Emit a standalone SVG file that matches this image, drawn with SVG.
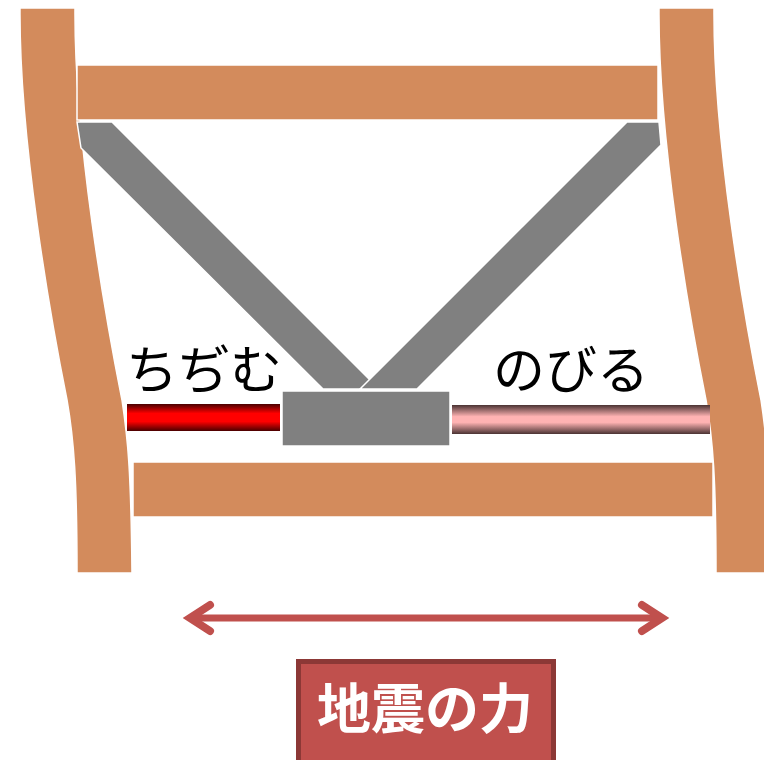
<svg xmlns="http://www.w3.org/2000/svg" width="764" height="760" viewBox="0 0 764 760">
  <style>
    .wood { fill: #d38b5c; stroke: #ffffff; stroke-width: 1.5; }
    .steel { fill: #808080; stroke: #ffffff; stroke-width: 1.5; }
    .label { font-family: "Noto Sans CJK JP", "Noto Sans", sans-serif; font-size: 52px; fill: #000000; }
    .force { stroke: #c0504d; stroke-width: 7; fill: none; }
  </style>
  <defs>
    <linearGradient id="shrinkGrad" x1="0" y1="0" x2="0" y2="1">
      <stop offset="0" stop-color="#4a0000"/>
      <stop offset="0.35" stop-color="#ff0000"/>
      <stop offset="0.65" stop-color="#ff0000"/>
      <stop offset="1" stop-color="#4a0000"/>
    </linearGradient>
    <linearGradient id="stretchGrad" x1="0" y1="0" x2="0" y2="1">
      <stop offset="0" stop-color="#4a3333"/>
      <stop offset="0.4" stop-color="#ffb3b3"/>
      <stop offset="0.6" stop-color="#ffb3b3"/>
      <stop offset="1" stop-color="#4a3333"/>
    </linearGradient>
    <marker id="chevron" markerUnits="userSpaceOnUse" markerWidth="40" markerHeight="40" viewBox="-5 0 40 40" refX="22" refY="20" orient="auto-start-reverse" overflow="visible">
      <path d="M2,7 L22,20 L2,33" fill="none" stroke="#c0504d" stroke-width="8" stroke-linecap="round" stroke-linejoin="miter"/>
    </marker>
    <path id="postShape" d="M20,8 L75,8 C74,140 106,320 122,400 C128,440 131,470 132,573 L77,573 C77,480 74,440 67,400 C51,320 19,140 20,8 Z"/>
  </defs>

  <!-- posts -->
  <g id="post-left">
    <use href="#postShape" class="wood"/>
  </g>
  <g id="post-right">
    <use href="#postShape" class="wood" transform="translate(639,0)"/>
  </g>

  <!-- beams -->
  <g id="beam-top">
    <rect x="77" y="65" width="581" height="55" class="wood"/>
  </g>
  <g id="beam-bottom">
    <rect x="133" y="462" width="580" height="55" class="wood"/>
  </g>

  <!-- braces -->
  <g id="brace-left">
    <polygon points="77,122 112,122 379,389 323,389 81,148" class="steel"/>
  </g>
  <g id="brace-right">
    <polygon points="627,122 659,122 661,145 417,389 360,389" class="steel"/>
  </g>

  <!-- damper block -->
  <g id="damper">
    <rect x="282" y="391" width="168" height="55" class="steel"/>
  </g>

  <!-- rods -->
  <g id="rod-shrink">
    <rect x="127" y="404" width="153" height="27" fill="url(#shrinkGrad)"/>
    <text x="126" y="389" class="label">ちぢむ</text>
  </g>
  <g id="rod-stretch">
    <rect x="452" y="405" width="258" height="29" fill="url(#stretchGrad)"/>
    <text x="493" y="389" class="label">のびる</text>
  </g>

  <!-- connectors -->
  <g id="connectors">
    <path d="M190,618 L662,618" class="force" marker-start="url(#chevron)" marker-end="url(#chevron)"/>
  </g>

  <!-- force label -->
  <g id="force-label">
    <rect x="298.5" y="661.5" width="255" height="110" fill="#c0504d" stroke="#8c3836" stroke-width="5"/>
    <text x="425" y="729" text-anchor="middle" font-family="Noto Sans CJK JP, sans-serif" font-size="54" font-weight="bold" fill="#ffffff">地震の力</text>
  </g>
</svg>
